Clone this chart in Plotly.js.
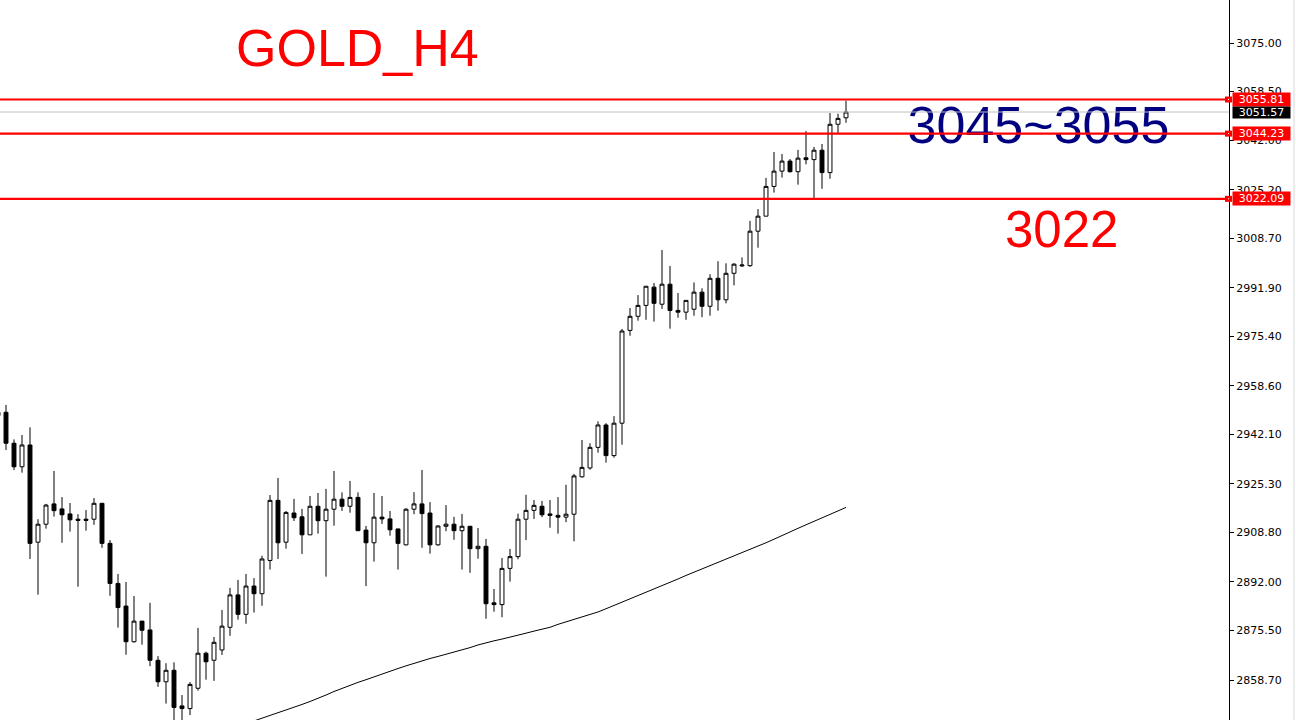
<!DOCTYPE html>
<html>
<head>
<meta charset="utf-8">
<script src="https://cdn.plot.ly/plotly-3.0.1.min.js"></script>
<style>
  html, body { margin: 0; padding: 0; background: #ffffff; }
  #chart { width: 1296px; height: 720px; }
</style>
</head>
<body>
<div id="chart"></div>
<script>
// ---- Data (GOLD H4 candles) ----
const opens = [2948.5,2949.6,2939.1,2931.1,2938.5,2905.5,2911.6,2918.5,2916.8,2915.1,2913.3,2913.3,2913.3,2918.7,2905.1,2891.5,2883.8,2871.7,2878.7,2875.7,2865.4,2858.1,2862.0,2849.9,2849.0,2855.9,2867.8,2865.4,2868.9,2876.6,2887.6,2881.0,2890.6,2888.0,2899.3,2919.7,2905.5,2915.4,2914.1,2908.0,2917.7,2912.8,2916.7,2920.1,2917.7,2920.7,2909.6,2905.3,2914.0,2913.4,2910.0,2904.6,2916.7,2918.5,2915.4,2904.6,2910.9,2911.6,2909.4,2910.9,2903.3,2904.1,2884.9,2884.3,2896.6,2900.6,2913.3,2916.3,2917.7,2915.1,2914.6,2914.0,2915.0,2927.7,2930.7,2937.7,2945.3,2934.9,2945.9,2977.4,2982.2,2985.9,2992.1,2986.3,2993.1,2984.2,2983.6,2984.6,2990.4,2985.6,2995.1,2987.8,2996.8,2999.3,2999.4,3011.1,3016.2,3026.3,3031.5,3034.9,3031.3,3036.0,3035.4,3038.6,3031.0,3047.4,3049.6];
const highs = [2950.5,2952.1,2940.4,2941.9,2944.5,2913.3,2918.5,2929.7,2920.8,2918.8,2915.0,2916.4,2920.5,2918.7,2906.2,2894.7,2892.0,2887.2,2878.7,2884.9,2866.8,2864.4,2864.7,2853.6,2858.0,2876.4,2868.3,2873.3,2882.5,2890.0,2892.7,2894.7,2893.3,2900.9,2921.5,2927.3,2916.1,2920.2,2916.8,2921.2,2922.2,2923.6,2929.7,2922.4,2926.3,2922.4,2911.0,2922.2,2921.2,2916.1,2910.0,2917.0,2922.5,2930.0,2919.1,2911.2,2918.1,2914.1,2915.1,2910.9,2910.3,2906.6,2889.6,2900.1,2903.2,2915.2,2921.6,2919.8,2919.5,2919.8,2920.8,2925.0,2928.7,2940.2,2939.1,2946.5,2945.9,2948.3,2977.9,2985.0,2989.4,2992.4,2993.5,3004.7,2999.3,2990.1,2987.6,2993.7,2991.7,2996.5,3000.9,3000.2,3000.2,3002.2,3014.6,3018.6,3029.2,3038.0,3037.3,3035.6,3038.7,3045.1,3039.7,3040.7,3051.2,3051.0,3055.4];
const lows = [2947.0,2936.8,2930.0,2929.1,2899.8,2887.7,2910.1,2914.2,2905.3,2909.1,2890.4,2909.4,2911.4,2903.6,2887.3,2876.5,2867.3,2871.4,2870.7,2863.4,2856.4,2850.7,2843.5,2844.5,2846.8,2855.1,2858.8,2858.4,2867.2,2873.7,2879.2,2877.8,2881.6,2883.9,2896.2,2899.8,2903.3,2912.7,2901.5,2908.0,2908.4,2893.8,2911.1,2916.1,2915.5,2909.4,2890.6,2898.9,2911.7,2907.7,2896.2,2904.4,2915.0,2903.6,2901.6,2904.3,2909.2,2906.3,2896.2,2895.1,2899.9,2879.5,2881.9,2880.0,2892.1,2899.7,2906.2,2913.4,2914.0,2910.4,2908.4,2912.3,2905.8,2927.4,2930.1,2935.9,2932.5,2934.2,2938.6,2975.6,2980.7,2981.0,2980.4,2984.7,2978.0,2981.7,2981.0,2982.4,2981.9,2982.4,2984.1,2986.6,2992.7,2999.0,2999.0,3005.5,3016.2,3024.2,3029.3,3031.0,3026.9,3033.8,3022.3,3025.5,3028.9,3044.3,3047.9];
const closes = [2949.6,2939.1,2931.1,2938.5,2905.1,2911.6,2918.1,2916.2,2914.8,2913.1,2912.9,2912.9,2918.7,2905.1,2891.5,2883.3,2871.7,2878.7,2875.6,2865.4,2858.1,2862.0,2849.4,2849.0,2857.2,2867.8,2864.9,2871.5,2877.0,2887.6,2881.0,2890.6,2888.0,2899.8,2919.7,2905.3,2915.6,2913.8,2908.0,2917.7,2912.8,2916.7,2920.1,2917.7,2920.7,2909.4,2905.3,2914.0,2913.4,2909.7,2905.1,2916.7,2918.5,2915.2,2904.6,2911.0,2911.6,2909.4,2910.9,2903.3,2904.1,2884.6,2884.3,2896.6,2900.6,2913.3,2916.3,2918.0,2914.8,2914.6,2914.0,2915.0,2928.0,2930.9,2937.7,2945.3,2934.9,2945.9,2977.2,2982.2,2985.9,2992.4,2986.6,2993.1,2984.2,2983.6,2987.6,2990.4,2985.6,2995.1,2987.8,2996.8,2999.9,2999.6,3011.1,3016.2,3026.3,3031.5,3034.9,3031.3,3035.9,3035.4,3038.6,3031.0,3047.4,3049.4,3051.57];

// Moving average (starts at candle index 31)
const maStartIndex = 31;
const maValues = [2844.8,2845.7,2846.6,2847.5,2848.4,2849.4,2850.4,2851.4,2852.4,2853.6,2854.8,2855.9,2856.9,2857.9,2858.8,2859.8,2860.8,2861.8,2862.6,2863.5,2864.4,2865.2,2866.0,2866.7,2867.4,2868.2,2868.9,2869.7,2870.6,2871.4,2872.0,2872.6,2873.2,2873.9,2874.6,2875.3,2875.9,2876.6,2877.6,2878.4,2879.2,2880.0,2880.8,2881.8,2882.9,2884.0,2885.2,2886.3,2887.5,2888.6,2889.7,2890.8,2891.9,2893.0,2894.2,2895.3,2896.5,2897.5,2898.6,2899.7,2900.8,2901.9,2902.9,2904.0,2905.3,2906.5,2907.8,2909.0,2910.2,2911.4,2912.6,2913.8,2915.0,2916.2,2917.3];

// Price levels
const redLevels = [3055.81, 3044.23, 3022.09];
const bidPrice = 3051.57;

// Axis ticks
const tickValues = [3075.00,3058.50,3042.00,3025.20,3008.70,2991.90,2975.40,2958.60,2942.10,2925.30,2908.80,2892.00,2875.50,2858.70];
const tickLabels = tickValues.map(v => v.toFixed(2));

// Texts
const titleText = "GOLD_H4";
const zoneText = "3045~3055";
const supportText = "3022";

// ---- Build ----
const xIdx = opens.map((_, i) => i - 1);
const maX = maValues.map((_, i) => i + maStartIndex);

const candles = {
  type: 'candlestick',
  x: xIdx, open: opens, high: highs, low: lows, close: closes,
  increasing: { line: { color: '#000000', width: 1 }, fillcolor: '#ffffff' },
  decreasing: { line: { color: '#000000', width: 1 }, fillcolor: '#000000' },
  whiskerwidth: 0,
  hoverinfo: 'skip',
  showlegend: false
};

const ma = {
  type: 'scatter', mode: 'lines',
  x: maX, y: maValues,
  line: { color: '#000000', width: 1 },
  hoverinfo: 'skip', showlegend: false
};

const zoneLabel = {
  type: 'scatter', mode: 'text',
  x: [112.7], y: [3045.3],
  text: [zoneText],
  textposition: 'middle right',
  textfont: { family: 'Liberation Sans, Arial, sans-serif', size: 52, color: '#000080' },
  hoverinfo: 'skip', showlegend: false
};

const W = 1296, H = 720, R = 67;
const PW = W - R;

const shapes = [];
// bid line
shapes.push({ type: 'line', xref: 'paper', yref: 'y', x0: 0, x1: 1, y0: bidPrice, y1: bidPrice,
  line: { color: '#c0c0c0', width: 1 } });
redLevels.forEach(v => {
  shapes.push({ type: 'line', xref: 'paper', yref: 'y', x0: 0, x1: 1, y0: v, y1: v,
    line: { color: '#ff0000', width: 2.2 } });
  shapes.push({ type: 'rect', xref: 'paper', yref: 'y', xsizemode: 'pixel', ysizemode: 'pixel',
    xanchor: 1, yanchor: v, x0: -4, x1: 3, y0: -3, y1: 3,
    fillcolor: '#ff0000', line: { width: 0 } });
  shapes.push({ type: 'rect', xref: 'paper', yref: 'y', xsizemode: 'pixel', ysizemode: 'pixel',
    xanchor: 1, yanchor: v, x0: -1, x1: 0, y0: -0.5, y1: 0.5,
    fillcolor: '#ffffff', line: { width: 0 } });
});
// right border line
shapes.push({ type: 'line', xref: 'paper', yref: 'paper', x0: 1294 / PW, x1: 1294 / PW, y0: 0, y1: 1,
  line: { color: '#d8d8d8', width: 1 } });

const annotations = [];
annotations.push({ xref: 'paper', yref: 'paper', x: 234 / PW, y: 1 - 48 / H, xanchor: 'left', yanchor: 'middle',
  text: titleText, showarrow: false,
  font: { family: 'Liberation Sans, Arial, sans-serif', size: 52, color: '#ff0000' } });
annotations.push({ xref: 'paper', yref: 'paper', x: 1003 / PW, y: 1 - 229 / H, xanchor: 'left', yanchor: 'middle',
  text: supportText, showarrow: false,
  font: { family: 'Liberation Sans, Arial, sans-serif', size: 51, color: '#ff0000' } });

const labelFont = { family: 'DejaVu Sans, Verdana, sans-serif', size: 11, color: '#ffffff' };
redLevels.forEach(v => {
  annotations.push({ xref: 'paper', yref: 'y', x: 1, y: v, xanchor: 'left', yanchor: 'middle', xshift: 3,
    text: v.toFixed(2), showarrow: false, bgcolor: '#ff0000', borderpad: 0, width: 57, height: 13,
    font: labelFont });
});
annotations.push({ xref: 'paper', yref: 'y', x: 1, y: bidPrice, xanchor: 'left', yanchor: 'middle', xshift: 3,
  text: bidPrice.toFixed(2), showarrow: false, bgcolor: '#000000', borderpad: 0, width: 57, height: 11,
  font: labelFont });

const layout = {
  width: W, height: H,
  margin: { l: 0, r: R, t: 0, b: 0, pad: 0 },
  paper_bgcolor: '#ffffff', plot_bgcolor: '#ffffff',
  showlegend: false,
  xaxis: {
    range: [-0.75, -0.75 + PW / 8],
    showgrid: false, zeroline: false, showticklabels: false, ticks: '',
    showline: false, fixedrange: true,
    rangeslider: { visible: false }
  },
  yaxis: {
    side: 'right',
    range: [2845.12, 3089.60],
    showgrid: false, zeroline: false,
    showline: true, linecolor: '#000000', linewidth: 1,
    ticks: 'outside', ticklen: 4, tickcolor: '#000000', tickwidth: 1,
    tickvals: tickValues, ticktext: tickLabels,
    tickfont: { family: 'DejaVu Sans, Verdana, sans-serif', size: 11, color: '#000000' },
    fixedrange: true
  },
  shapes: shapes,
  annotations: annotations
};

Plotly.newPlot('chart', [candles, ma, zoneLabel], layout, { displayModeBar: false, staticPlot: true });
</script>
</body>
</html>
